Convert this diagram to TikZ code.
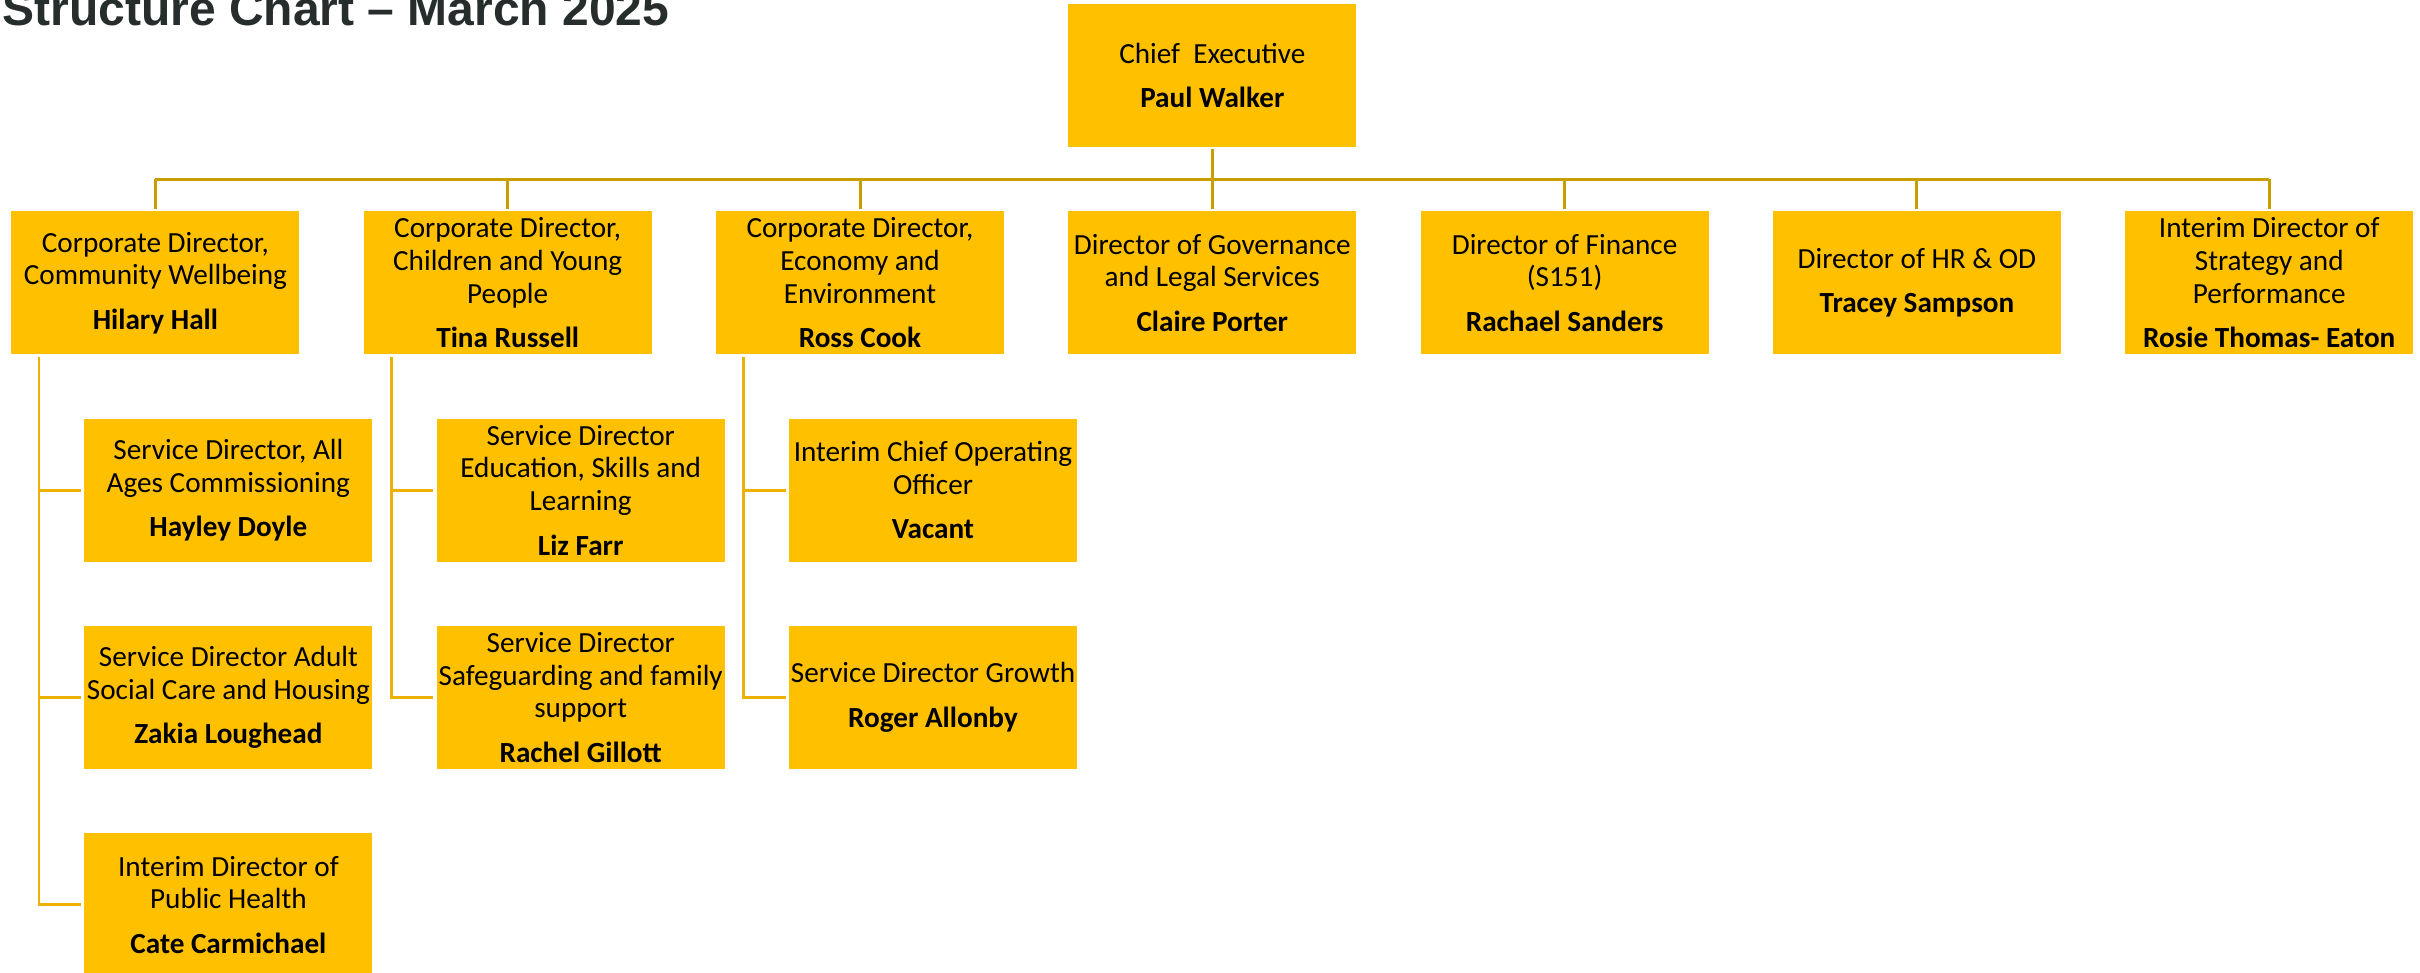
\documentclass[tikz,border=0pt]{standalone}
\usepackage{fontspec}
\setmainfont{Carlito}
\newfontfamily\titlefont{Liberation Sans}
\usetikzlibrary{positioning}
\definecolor{boxgold}{HTML}{FFC000}
\definecolor{busgold}{HTML}{C99E00}
\definecolor{linkgold}{HTML}{EDB200}
\definecolor{titlegrey}{HTML}{272D2D}
\tikzset{
  post/.style={fill=boxgold, minimum width=144pt, minimum height=71.5pt, inner sep=0pt, align=center, font=\fontsize{14.6}{16.3}\selectfont},
  bus/.style={draw=busgold, line width=1.5pt},
  link/.style={draw=linkgold, line width=1.4pt},
}

\begin{document}
\begin{tikzpicture}[node distance=31.75pt]
 \useasboundingbox (0,0) rectangle (1210pt,-486.5pt);
 \node [anchor=base west, inner sep=0pt, text=titlegrey, font=\titlefont\bfseries\fontsize{24}{28}\selectfont] (title) at (1pt,-13pt) {Structure Chart – March 2025};
 \node [post, anchor=north west] (cw) at (5.5pt,-105.5pt) {Corporate Director,\\Community Wellbeing\\[6pt]\textbf{Hilary Hall}};
 \node [post, right=of cw] (cyp) {Corporate Director,\\Children and Young\\People\\[6pt]\textbf{Tina Russell}};
 \node [post, right=of cyp] (ee) {Corporate Director,\\Economy and\\Environment\\[6pt]\textbf{Ross Cook}};
 \node [post, right=of ee] (gov) {Director of Governance\\and Legal Services\\[6pt]\textbf{Claire Porter}};
 \node [post, right=of gov] (fin) {Director of Finance\\(S151)\\[6pt]\textbf{Rachael Sanders}};
 \node [post, right=of fin] (hr) {Director of HR \& OD\\[6pt]\textbf{Tracey Sampson}};
 \node [post, right=of hr] (sp) {Interim Director of\\Strategy and\\Performance\\[6pt]\textbf{Rosie Thomas- Eaton}};
 \node [post, above=of gov] (ce) {Chief~~Executive\\[6pt]\textbf{Paul Walker}};
 \node [post, below right=31.75pt and 36.5pt of cw.south west] (aac) {Service Director, All\\Ages Commissioning\\[6pt]\textbf{Hayley Doyle}};
 \node [post, below=of aac] (asc) {Service Director Adult\\Social Care and Housing\\[6pt]\textbf{Zakia Loughead}};
 \node [post, below=of asc] (ph) {Interim Director of\\Public Health\\[6pt]\textbf{Cate Carmichael}};
 \node [post, below right=31.75pt and 36.5pt of cyp.south west] (esl) {Service Director\\Education, Skills and\\Learning\\[6pt]\textbf{Liz Farr}};
 \node [post, below=of esl] (sfs) {Service Director\\Safeguarding and family\\support\\[6pt]\textbf{Rachel Gillott}};
 \node [post, below right=31.75pt and 36.5pt of ee.south west] (coo) {Interim Chief Operating\\Officer\\[6pt]\textbf{Vacant}};
 \node [post, below=of coo] (grw) {Service Director Growth\\[6pt]\textbf{Roger Allonby}};
 \path (ce.south) -- coordinate[midway] (bus) (gov.north);
 \coordinate (cwspine) at ([xshift=14pt]cw.south west);
 \coordinate (cypspine) at ([xshift=14pt]cyp.south west);
 \coordinate (eespine) at ([xshift=14pt]ee.south west);
 \draw [bus] ([yshift=-1pt]ce.south) -- (bus);
 \draw [bus] (cw.north |- bus) -- (sp.north |- bus);
 \draw [bus] (cw.north |- bus) -- ([yshift=1pt]cw.north);
 \draw [bus] (cyp.north |- bus) -- ([yshift=1pt]cyp.north);
 \draw [bus] (ee.north |- bus) -- ([yshift=1pt]ee.north);
 \draw [bus] (bus) -- ([yshift=1pt]gov.north);
 \draw [bus] (fin.north |- bus) -- ([yshift=1pt]fin.north);
 \draw [bus] (hr.north |- bus) -- ([yshift=1pt]hr.north);
 \draw [bus] (sp.north |- bus) -- ([yshift=1pt]sp.north);
 \draw [link] ([yshift=-1pt]cwspine) |- ([xshift=-1.5pt]ph.west);
 \draw [link] (cwspine |- aac.west) -- ([xshift=-1.5pt]aac.west);
 \draw [link] (cwspine |- asc.west) -- ([xshift=-1.5pt]asc.west);
 \draw [link] ([yshift=-1pt]cypspine) |- ([xshift=-1.5pt]sfs.west);
 \draw [link] (cypspine |- esl.west) -- ([xshift=-1.5pt]esl.west);
 \draw [link] ([yshift=-1pt]eespine) |- ([xshift=-1.5pt]grw.west);
 \draw [link] (eespine |- coo.west) -- ([xshift=-1.5pt]coo.west);
\end{tikzpicture}
\end{document}
